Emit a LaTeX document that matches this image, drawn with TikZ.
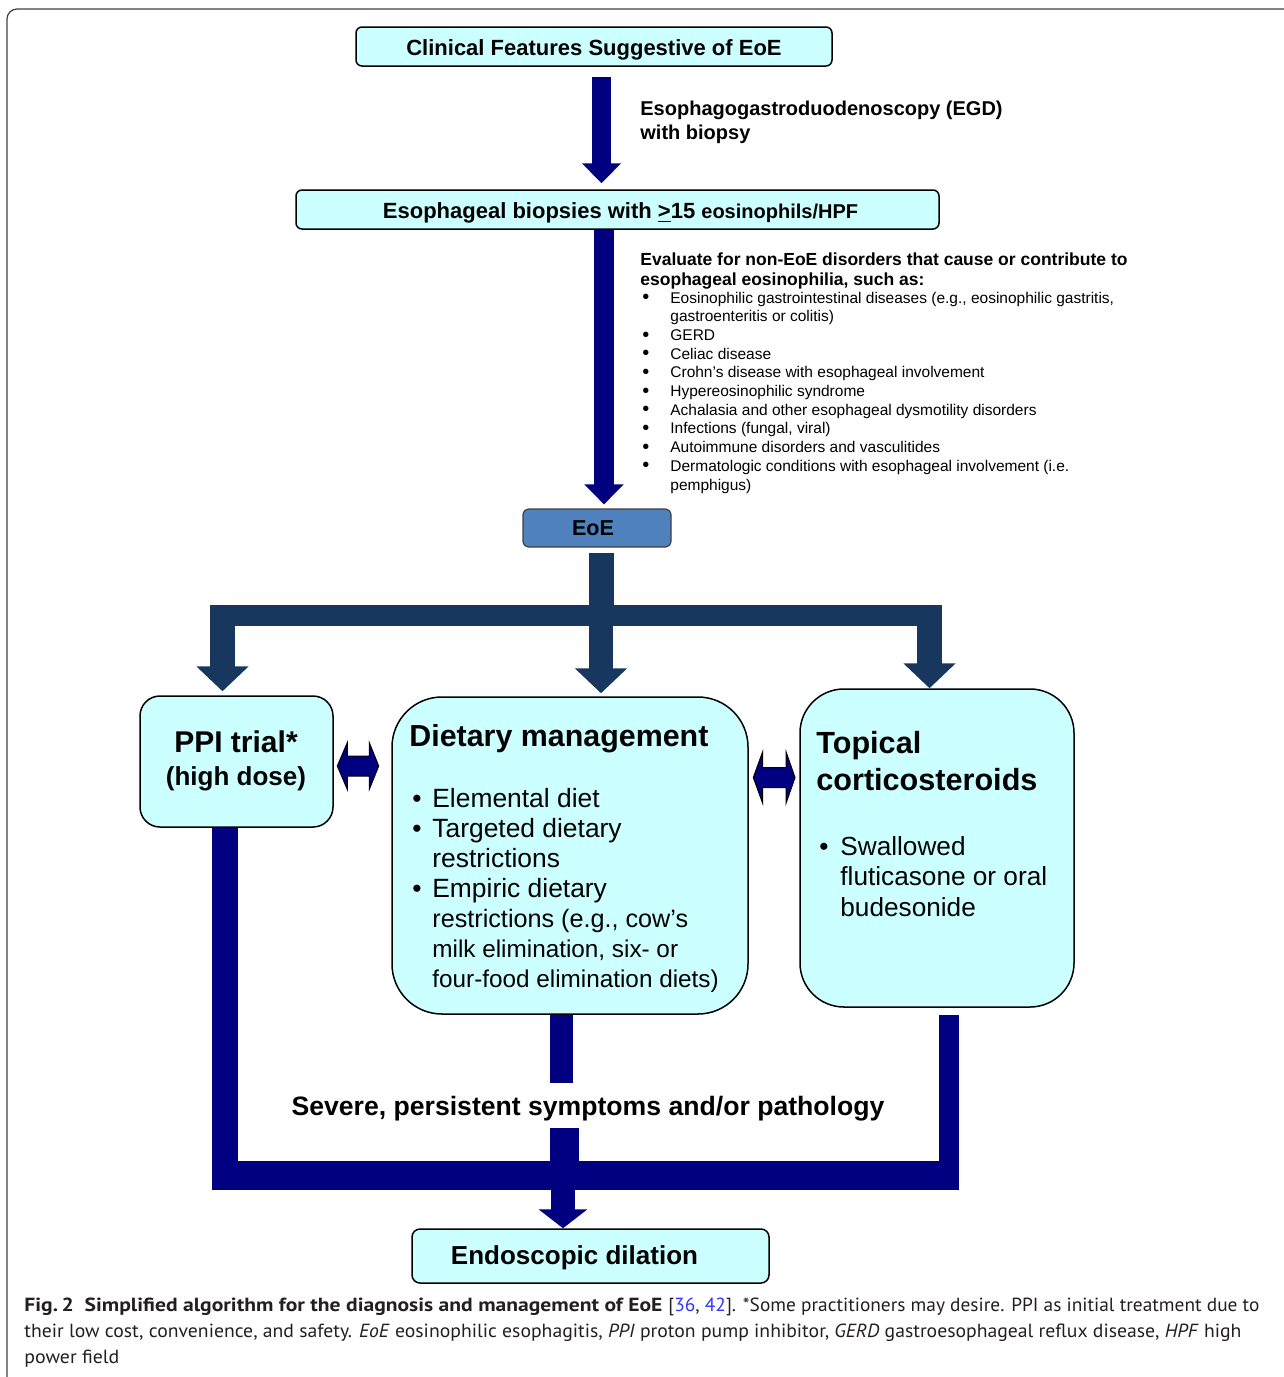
\documentclass[tikz,border=0pt]{standalone}
\usepackage{fontspec}
\setmainfont{Liberation Sans}
\newfontfamily\capfont{PT Sans}
\usepackage{graphicx}
\usetikzlibrary{calc,arrows.meta}
\definecolor{cyanfill}{HTML}{CCFFFF}
\definecolor{eoeblue}{HTML}{4F81BD}
\definecolor{treeblue}{HTML}{17375E}
\definecolor{navyc}{HTML}{000080}
\definecolor{linkblue}{HTML}{3333FF}
\definecolor{captxt}{HTML}{231F20}
\newcommand{\dblarrow}[7]{%
\filldraw[fill=navyc, draw=black, line width=0.5pt, line join=miter] (#1,#5) -- (#2,{#5-#7}) -- (#2,{#5-#6}) -- (#3,{#5-#6}) -- (#3,{#5-#7}) -- (#4,#5) -- (#3,{#5+#7}) -- (#3,{#5+#6}) -- (#2,{#5+#6}) -- (#2,{#5+#7}) -- cycle;}
\newcommand{\bl}[1]{\makebox[#1][l]{\textbullet}}
\newcommand{\bigbl}[1]{\makebox[#1][l]{\raisebox{-0.3pt}{\fontsize{10}{10}\selectfont\textbullet}}}
\begin{document}
\begin{tikzpicture}[x=0.5pt,y=-0.5pt,
  box/.style={draw=black, line width=0.75pt, fill=cyanfill, inner sep=0pt},
  txt/.style={inner sep=0pt, text=black},
  fat/.style={line cap=butt}]
\useasboundingbox (0,0) rectangle (1284,1377);
% outer frame
\draw[black!75, line width=0.6pt, rounded corners=5pt] (7,1400) -- (7,9) -- (1300,9);

% boxes
\node[box, rounded corners=3pt, minimum width=238pt, minimum height=19.5pt] (clin) at (594,46.5) {};
\node[txt, anchor=base, font=\fontsize{11}{13}\selectfont\bfseries] (clint) at (594,55)
  {Clinical Features Suggestive of EoE};
\node[box, rounded corners=3pt, minimum width=321.5pt, minimum height=19.5pt] (bio) at (617.5,209.5) {};
\node[txt, anchor=base, font=\fontsize{11}{13}\selectfont\bfseries] (biot) at (620.5,218.5)
  {Esophageal biopsies with \underline{>}15 {\fontsize{10}{12}\selectfont eosinophils/HPF}};
\node[draw=black!75, line width=0.6pt, fill=eoeblue, rounded corners=3pt, inner sep=0pt, minimum width=74pt, minimum height=19pt] (eoe) at (597,528)
  {\hspace*{-4pt}\fontsize{10.8}{12}\selectfont\bfseries EoE};
\node[box, rounded corners=10pt, minimum width=96.5pt, minimum height=65.5pt] (ppi) at (236.5,761.5) {};
\node[box, rounded corners=25pt, minimum width=178pt, minimum height=158.5pt] (diet) at (570,855.5) {};
\node[box, rounded corners=22pt, minimum width=137pt, minimum height=159pt] (topc) at (937,848) {};
\node[box, rounded corners=4pt, minimum width=178.5pt, minimum height=27pt] (endo) at (590.5,1256) {};

% top arrows
\draw[navyc, fat, line width=9.5pt, -{Triangle[width=19pt,length=10pt]}]
  ($(clin.south)+(7.5,10)$) -- ($(bio.north)+(-16,-6)$);
\draw[navyc, fat, line width=10pt, -{Triangle[width=19pt,length=10pt]}]
  ($(bio.south)+(-13.5,0)$) -- ($(eoe.north)+(7,-4)$);

% EGD label
\node[txt, anchor=base west] (egd) at (640,115)
  {\parbox[t]{200pt}{\fontsize{10}{12}\selectfont\bfseries Esophagogastroduodenoscopy (EGD)\\with biopsy}};

% evaluate block
\node[txt, anchor=base west] (evalh) at (640,265)
  {\parbox[t]{260pt}{\fontsize{8.75}{10}\selectfont\bfseries Evaluate for non-EoE disorders that cause or contribute to\\esophageal eosinophilia, such as:}};
\node[txt, anchor=base west] (evall) at (642,303)
  {\parbox[t]{260pt}{\fontsize{7.75}{9.35}\selectfont
  \bigbl{14pt}Eosinophilic gastrointestinal diseases (e.g., eosinophilic gastritis,\\
  \hspace*{14pt}gastroenteritis or colitis)\\
  \bigbl{14pt}GERD\\
  \bigbl{14pt}Celiac disease\\
  \bigbl{14pt}Crohn’s disease with esophageal involvement\\
  \bigbl{14pt}Hypereosinophilic syndrome\\
  \bigbl{14pt}Achalasia and other esophageal dysmotility disorders\\
  \bigbl{14pt}Infections (fungal, viral)\\
  \bigbl{14pt}Autoimmune disorders and vasculitides\\
  \bigbl{14pt}Dermatologic conditions with esophageal involvement (i.e.\\
  \hspace*{14pt}pemphigus)}};

% tree
\draw[treeblue, fat, line width=12.5pt] ($(eoe.south)+(4.5,5)$) -- (601.5,626);
\fill[treeblue] (210,605) rectangle (942,626);
\draw[treeblue, fat, line width=12.5pt, -{Triangle[width=25.5pt,length=12.5pt]}]
  (222.5,605) -- ($(ppi.north)+(-14,-4)$);
\draw[treeblue, fat, line width=12pt, -{Triangle[width=25.5pt,length=12.5pt]}]
  (601,620) -- ($(diet.north)+(31,-3)$);
\draw[treeblue, fat, line width=12.5pt, -{Triangle[width=25.5pt,length=12.5pt]}]
  (929.5,605) -- ($(topc.north)+(-7.5,0)$);

% double arrows
\dblarrow{337.3}{347.3}{369.3}{378.7}{766}{10}{23.3}
\dblarrow{753.3}{762.7}{786}{795}{777.5}{10}{25.8}

% PPI text
\node[txt, anchor=base, font=\fontsize{15}{18}\selectfont\bfseries] (ppit1) at (236,752) {PPI trial*};
\node[txt, anchor=base, font=\fontsize{13}{16}\selectfont\bfseries] (ppit2) at (236,785) {(high dose)};

% Dietary text
\node[txt, anchor=base west, font=\fontsize{15.2}{18}\selectfont\bfseries] (diett) at (409,746) {Dietary management};
\node[txt, anchor=base west] (dietl) at (412,807)
  {\parbox[t]{170pt}{\fontsize{13.2}{15}\selectfont
  \bl{10pt}Elemental diet\\
  \bl{10pt}Targeted dietary\\
  \hspace*{10pt}restrictions\\
  \bl{10pt}Empiric dietary\\
  \hspace*{10pt}{\fontsize{12.6}{15}\selectfont restrictions (e.g., cow’s}\\
  \hspace*{10pt}{\fontsize{12.15}{15}\selectfont milk elimination, six- or}\\
  \hspace*{10pt}{\fontsize{12.15}{15}\selectfont four-food elimination diets)}}};

% Topical text
\node[txt, anchor=base west] (topt) at (816,753)
  {\parbox[t]{130pt}{\fontsize{15.3}{18.5}\selectfont\bfseries Topical\\corticosteroids}};
\node[txt, anchor=base west] (topl) at (819,855)
  {\parbox[t]{130pt}{\fontsize{13.1}{15.25}\selectfont
  \bl{10.5pt}Swallowed\\
  \hspace*{10.5pt}fluticasone or oral\\
  \hspace*{10.5pt}budesonide}};

% bottom connectors
\draw[navyc, fat, line width=13pt] ($(ppi.south)+(-11.5,0)$) -- (225,1190);
\fill[navyc] (212,1161) rectangle (959,1190);
\draw[navyc, fat, line width=10pt] ($(topc.south)+(12,7)$) -- (949,1165);
\draw[navyc, fat, line width=11.5pt] ($(diet.south)+(-8.5,0)$) -- (561.5,1083);
\draw[navyc, fat, line width=14.5pt] (564.5,1128) -- (564.5,1165);
\draw[navyc, fat, line width=12pt, -{Triangle[width=24pt,length=9.5pt]}]
  (563,1185) -- ($(endo.north)+(-27.5,0)$);

\node[txt, anchor=base, font=\fontsize{13.3}{16}\selectfont\bfseries] (sev) at (588,1115) {Severe, persistent symptoms and/or pathology};
\node[txt, anchor=base, font=\fontsize{13}{16}\selectfont\bfseries] (endot) at (574.5,1264) {Endoscopic dilation};

% caption
\node[txt, anchor=base west, text=captxt] (cap1) at (24,1311)
  {\capfont\fontsize{9.5}{12}\selectfont\resizebox{319pt}{\height}{\bfseries Fig.\,2\enspace Simplified algorithm for the diagnosis and management of EoE}\hspace{3pt}\resizebox{295.5pt}{\height}{[\textcolor{linkblue}{36}, \textcolor{linkblue}{42}]. *Some practitioners may desire. PPI as initial treatment due to}};
\node[txt, anchor=base west, text=captxt] (cap2) at (24,1337)
  {\capfont\fontsize{9.5}{12}\selectfont\resizebox{608.5pt}{\height}{their low cost, convenience, and safety. \textit{EoE} eosinophilic esophagitis, \textit{PPI} proton pump inhibitor, \textit{GERD} gastroesophageal reflux disease, \textit{HPF} high}};
\node[txt, anchor=base west, text=captxt] (cap3) at (24,1363)
  {\capfont\fontsize{9.5}{12}\selectfont\resizebox{47.5pt}{\height}{power field}};
\end{tikzpicture}
\end{document}
